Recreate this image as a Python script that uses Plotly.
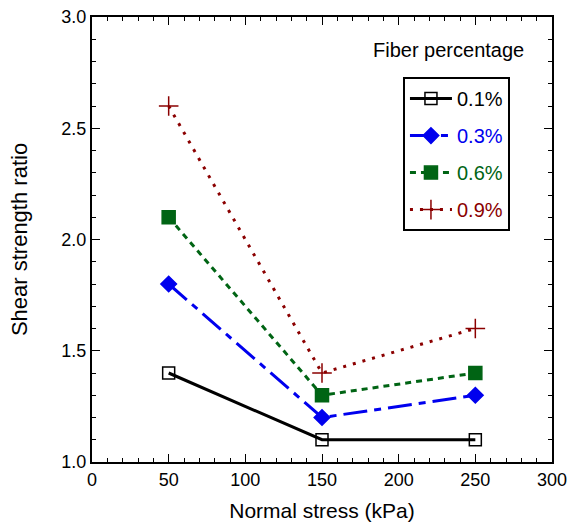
import plotly.graph_objects as go

normal_stress = [50, 150, 250]
fiber_labels = ["0.1%", "0.3%", "0.6%", "0.9%"]
ratio_01 = [1.4, 1.1, 1.1]
ratio_03 = [1.8, 1.2, 1.3]
ratio_06 = [2.1, 1.3, 1.4]
ratio_09 = [2.6, 1.4, 1.6]

series = [ratio_01, ratio_03, ratio_06, ratio_09]
colors = ["#000000", "#0000EE", "#006414", "#8B0000"]
dashes = ["solid", "24px,7px,7px,7px", "6px,5px", "3px,7px"]
symbols = ["square-open", "diamond", "square", "cross-thin-open"]
msizes = [12, 12, 13, 14]
mline_colors = ["#555555", "#0000EE", "#006414", "#8B0000"]

FONT = "Liberation Sans, Arial, sans-serif"

fig = go.Figure()
for i, (lab, ys) in enumerate(zip(fiber_labels, series)):
    fig.add_trace(go.Scatter(
        x=normal_stress, y=ys, mode="lines+markers",
        name=f"<span style='color:{colors[i]}'>{lab}</span>",
        legendgroup=f"g{i}",
        line=dict(color=colors[i], width=3, dash=dashes[i]),
        marker=dict(symbol=symbols[i], size=msizes[i], color=colors[i],
                    line=dict(color=mline_colors[i], width=1.5)),
    ))

axis_common = dict(
    showline=True, linecolor="black", linewidth=2, mirror="ticks",
    ticks="inside", ticklen=8, tickwidth=1, tickcolor="black",
    showgrid=False, zeroline=False, automargin=False,
    ticklabeloverflow="allow",
    tickfont=dict(family=FONT, size=18, color="black"),
)

fig.update_layout(
    width=567, height=525,
    margin=dict(l=92, r=15, t=17, b=63),
    plot_bgcolor="white", paper_bgcolor="white",
    font=dict(family=FONT, color="black"),
    xaxis=dict(range=[0, 300], dtick=50,
               minor=dict(dtick=10, ticks="inside", ticklen=4, tickcolor="black"),
               title=dict(text="Normal stress (kPa)", font=dict(size=21), standoff=15),
               **axis_common),
    yaxis=dict(range=[1.0, 3.0], dtick=0.5, tickformat=".1f",
               minor=dict(dtick=0.1, ticks="inside", ticklen=4, tickcolor="black"),
               title=dict(text="Shear strength ratio", font=dict(size=22), standoff=28),
               **axis_common),
    legend=dict(x=0.676, y=0.865, xanchor="left", yanchor="top",
                bordercolor="black", borderwidth=2, bgcolor="white",
                font=dict(size=20), tracegroupgap=8, traceorder="grouped",
                itemwidth=42),
    annotations=[dict(text="Fiber percentage", x=0.943, y=0.926, xref="paper", yref="paper",
                      xanchor="right", yanchor="middle", showarrow=False,
                      font=dict(size=20, color="black"))],
)

fig.write_html("out.html", config={"displayModeBar": False},
               post_script="document.body.style.margin='0';")
